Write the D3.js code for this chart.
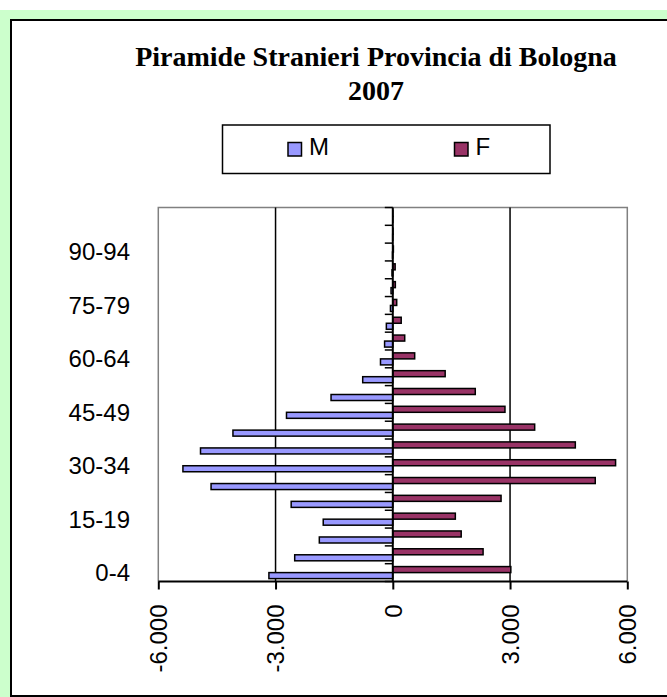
<!DOCTYPE html>
<html><head><meta charset="utf-8">
<script src="https://cdn.jsdelivr.net/npm/d3@7"></script>
<style>body{margin:0;background:#fff}svg{display:block}</style>
</head><body>
<svg id="c" width="667" height="697"></svg>
<script>
const ageGroups = ["0-4","5-9","10-14","15-19","20-24","25-29","30-34","35-39","40-44","45-49","50-54","55-59","60-64","65-69","70-74","75-79","80-84","85-89","90-94","95-99","100+"];
const maleValues = [3170,2510,1880,1780,2600,4650,5370,4920,4090,2720,1580,770,315,210,165,60,45,20,8,3,1];
const femaleValues = [3020,2310,1750,1600,2770,5180,5700,4670,3630,2870,2110,1340,560,305,215,100,65,60,15,5,1];
const seriesNames = ["M","F"];
const seriesColors = ["#9999ff","#993366"];
const xTickValues = [-6000,-3000,0,3000,6000];
const xTickLabels = ["-6.000","-3.000","0","3.000","6.000"];
const yLabelShown = ["0-4","15-19","30-34","45-49","60-64","75-79","90-94"];
const titleLines = ["Piramide Stranieri Provincia di Bologna","2007"];

(function(){
const svg = d3.select("#c");
// frame
svg.append("rect").attr("x",0).attr("y",10).attr("width",667).attr("height",687).attr("fill","#ccffcc");
svg.append("rect").attr("x",11).attr("y",20).attr("width",720).attr("height",676)
  .attr("fill","#fff").attr("stroke","#000").attr("stroke-width",2);

// title
svg.append("text").attr("x",376).attr("y",65.5).attr("text-anchor","middle")
  .attr("font-family","'Liberation Serif','Times New Roman',serif").attr("font-weight","bold")
  .attr("font-size",28).text(titleLines[0]);
svg.append("text").attr("x",376).attr("y",100).attr("text-anchor","middle")
  .attr("font-family","'Liberation Serif','Times New Roman',serif").attr("font-weight","bold")
  .attr("font-size",28).text(titleLines[1]);

// legend
const lg = svg.append("g");
lg.append("rect").attr("x",222.5).attr("y",125).attr("width",327.5).attr("height",48.5)
  .attr("fill","#fff").attr("stroke","#000").attr("stroke-width",1.5);
const legX = [288, 454.5];
seriesNames.forEach((n,i)=>{
  lg.append("rect").attr("x",legX[i]).attr("y",142.5).attr("width",13.5).attr("height",13.5)
    .attr("fill",seriesColors[i]).attr("stroke","#000").attr("stroke-width",1.5);
  lg.append("text").attr("x",legX[i]+21).attr("y",155).attr("font-family","'Liberation Sans',Arial,sans-serif")
    .attr("font-size",24).text(n);
});

// scales
const pLeft=158.3, pRight=627.3, pTop=207.5, pBottom=581.5;
const x = d3.scaleLinear().domain([-6000,6000]).range([pLeft,pRight]);
const y = d3.scaleBand().domain(ageGroups.slice().reverse()).range([pTop,pBottom]).paddingInner(0).paddingOuter(0);
const inner = d3.scaleBand().domain(["F","M"]).range([0,y.bandwidth()]).paddingInner(0).paddingOuter(0.48);

// plot border (gray)
svg.append("path").attr("d",`M${pLeft},${pBottom}V${pTop}H${pRight}V${pBottom}`)
  .attr("fill","none").attr("stroke","#808080").attr("stroke-width",1.5);
// gridlines
[-3000,3000].forEach(v=>{
  svg.append("line").attr("x1",x(v)).attr("x2",x(v)).attr("y1",pTop).attr("y2",pBottom)
    .attr("stroke","#000").attr("stroke-width",1.5);
});

// category ticks on zero axis
const bounds = d3.range(ageGroups.length+1).map(i=>pTop + i*y.step());
svg.append("g").selectAll("line").data(bounds).join("line")
  .attr("x1",x(0)-8).attr("x2",x(0)).attr("y1",d=>d).attr("y2",d=>d)
  .attr("stroke","#000").attr("stroke-width",1.5);

// bars
const data = ageGroups.map((a,i)=>({a, m:maleValues[i], f:femaleValues[i]}));
const bars = svg.append("g");
bars.selectAll("rect.m").data(data).join("rect").attr("class","m")
  .attr("x",d=>x(-d.m)).attr("width",d=>x(0)-x(-d.m))
  .attr("y",d=>y(d.a)+inner("M")).attr("height",inner.bandwidth())
  .attr("fill",seriesColors[0]).attr("stroke","#000").attr("stroke-width",1.5);
bars.selectAll("rect.f").data(data).join("rect").attr("class","f")
  .attr("x",x(0)).attr("width",d=>x(d.f)-x(0))
  .attr("y",d=>y(d.a)+inner("F")).attr("height",inner.bandwidth())
  .attr("fill",seriesColors[1]).attr("stroke","#000").attr("stroke-width",1.5);

// zero axis
svg.append("line").attr("x1",x(0)).attr("x2",x(0)).attr("y1",pTop).attr("y2",pBottom)
  .attr("stroke","#000").attr("stroke-width",2);

// x axis
const xa = svg.append("g").attr("transform",`translate(0,${pBottom})`)
  .call(d3.axisBottom(x).tickValues(xTickValues).tickSize(8).tickFormat((d,i)=>xTickLabels[i]));
xa.select(".domain").attr("stroke","#000").attr("stroke-width",2).attr("d",`M${pLeft},0H${pRight}`);
xa.selectAll(".tick line").attr("stroke","#000").attr("stroke-width",2);
xa.selectAll(".tick text")
  .attr("font-family","'Liberation Sans',Arial,sans-serif").attr("font-size",24).attr("fill","#000")
  .attr("text-anchor","end").attr("x",0).attr("y",0).attr("dy","0.35em")
  .attr("transform","translate(0,23) rotate(-90)");

// y labels
svg.append("g").selectAll("text").data(yLabelShown).join("text")
  .attr("x",130).attr("y",d=>y(d)+y.bandwidth()/2).attr("dy","0.35em")
  .attr("text-anchor","end").attr("font-family","'Liberation Sans',Arial,sans-serif")
  .attr("font-size",24).text(d=>d);
})();
</script>
</body></html>
